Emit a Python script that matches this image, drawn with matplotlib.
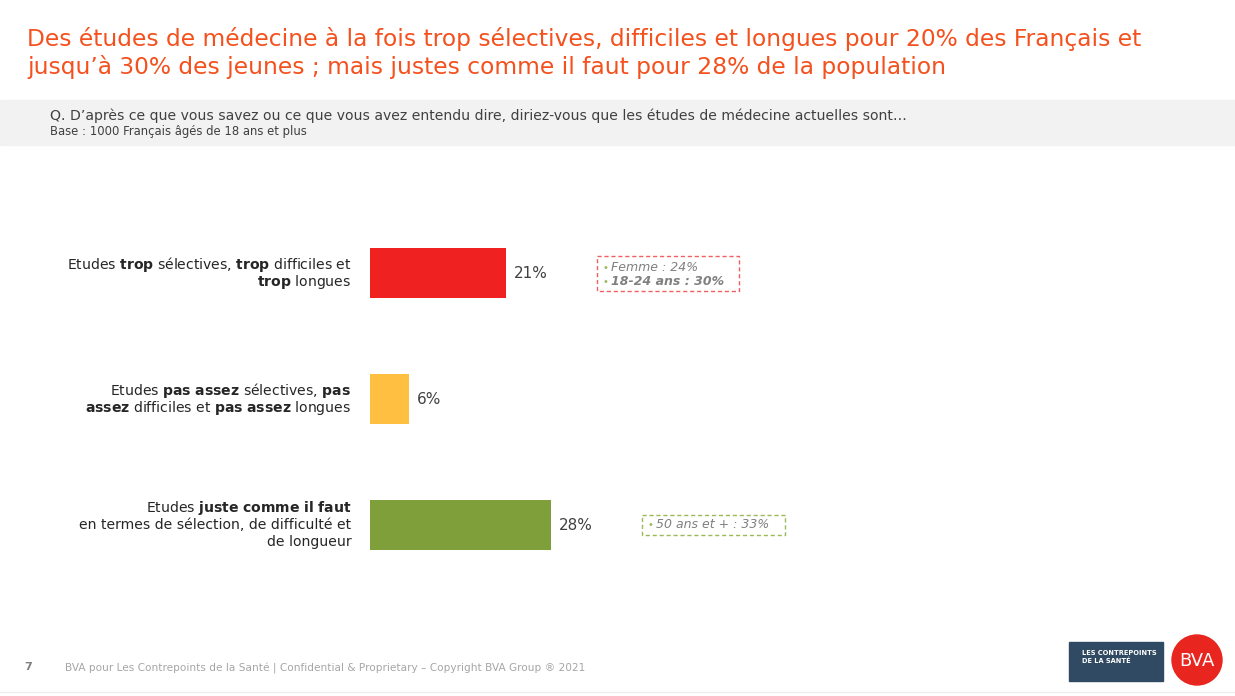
import matplotlib.pyplot as plt
import matplotlib.patches as patches

plt.rcParams['font.family'] = ['DejaVu Sans']
plt.rcParams['mathtext.fontset'] = 'custom'
plt.rcParams['mathtext.rm'] = 'DejaVu Sans'
plt.rcParams['mathtext.bf'] = 'DejaVu Sans:bold'

# donnees
categories = [
    ["Etudes $\\mathbf{trop}$ sélectives, $\\mathbf{trop}$ difficiles et",
     "$\\mathbf{trop}$ longues"],
    ["Etudes $\\mathbf{pas\\ assez}$ sélectives, $\\mathbf{pas}$",
     "$\\mathbf{assez}$ difficiles et $\\mathbf{pas\\ assez}$ longues"],
    ["Etudes $\\mathbf{juste\\ comme\\ il\\ faut}$",
     "en termes de sélection, de difficulté et",
     "de longueur"],
]
valeurs = [21, 6, 28]
couleurs = ['#EF2121', '#FFBF40', '#7F9F3B']
encadres = [["Femme : 24%", "18-24 ans : 30%"], [], ["50 ans et + : 33%"]]
couleurs_cadre = ['#F06060', None, '#9BBB59']

W, H = 1235, 696
fig = plt.figure(figsize=(W / 100, H / 100), dpi=100)

def px(x, y):
    return x / W, 1 - y / H

# titre
fig.text(*px(27, 39), "Des études de médecine à la fois trop sélectives, difficiles et longues pour 20% des Français et",
         color='#F4511E', fontsize=16.85, va='center', ha='left')
fig.text(*px(27, 67), "jusqu\u2019à 30% des jeunes ; mais justes comme il faut pour 28% de la population",
         color='#F4511E', fontsize=16.85, va='center', ha='left')
fig.patches.append(patches.Rectangle(px(0, 145), 1, 45 / H, transform=fig.transFigure,
                                     color='#F2F2F2', zorder=0))
fig.text(*px(50, 116), "Q. D\u2019après ce que vous savez ou ce que vous avez entendu dire, diriez-vous que les études de médecine actuelles sont\u2026",
         fontsize=10.05, color='#404040', va='center')
fig.text(*px(50, 131), "Base : 1000 Français âgés de 18 ans et plus", fontsize=8.4, color='#404040', va='center')

# barres
ax = fig.add_axes([370 / W, 1 - 588 / H, 500 / W, 378 / H])
ax.barh(range(len(valeurs)), valeurs, height=0.4, color=couleurs)
ax.set_xlim(0, 500 / 6.46)
ax.set_ylim(2.5, -0.5)
ax.axis('off')
pas = 17 / 126
for i, v in enumerate(valeurs):
    ax.text(v + 1.2, i, f"{v}%", va='center', ha='left', fontsize=11, color='#404040')
    lignes = categories[i]
    n = len(lignes)
    for k, l in enumerate(lignes):
        yy = i + (k - (n - 1) / 2) * pas
        ax.text(-2.9, yy + 0.035, l, va='baseline', ha='right', fontsize=10.1, color='#262626')
    if encadres[i]:
        x0 = (597 - 370) / 6.46 if i == 0 else (642 - 370) / 6.46
        w = 142 / 6.46 if i == 0 else 143 / 6.46
        h = 35 / 126 if i == 0 else 20 / 126
        ax.add_patch(patches.Rectangle((x0, i - h / 2), w, h, fill=False,
                                       edgecolor=couleurs_cadre[i], linestyle=(0, (3, 2)), lw=1))
        m = len(encadres[i])
        for j, t in enumerate(encadres[i]):
            yy = i + (j - (m - 1) / 2) * 0.11 + (0.015 if m > 1 else 0)
            ax.text(x0 + 0.8, yy, "\u2022", color='#9BBB59', fontsize=7, va='center')
            ax.text(x0 + 2.2, yy, t, color='#808080', fontsize=9, style='italic', va='center',
                    fontweight='bold' if j == 1 else 'normal')

# pied de page
fig.text(*px(24, 667), "7", fontsize=8, color='#7F7F7F', fontweight='bold', va='center')
fig.text(*px(65, 668), "BVA pour Les Contrepoints de la Santé | Confidential & Proprietary \u2013 Copyright BVA Group \u00ae 2021",
         fontsize=7.6, color='#A6A6A6', va='center')
fig.patches.append(patches.Rectangle(px(1069, 681), 94 / W, 39 / H, transform=fig.transFigure,
                                     color='#2F4A62'))
fig.text(*px(1082, 657), "LES CONTREPOINTS\nDE LA SANTÉ", fontsize=4.8, color='white',
         fontweight='bold', va='center', linespacing=1.3)
fig.patches.append(patches.Ellipse(px(1197, 660), 50 / W, 50 / H, transform=fig.transFigure,
                                   color='#E8251F'))
fig.text(*px(1197, 661), "BVA", fontsize=13, color='white', ha='center', va='center')
fig.lines.append(plt.Line2D([0, 1], [1 - 692 / H] * 2, transform=fig.transFigure,
                            color='#EDEDED', lw=1))

fig.savefig('out.png', dpi=100)
